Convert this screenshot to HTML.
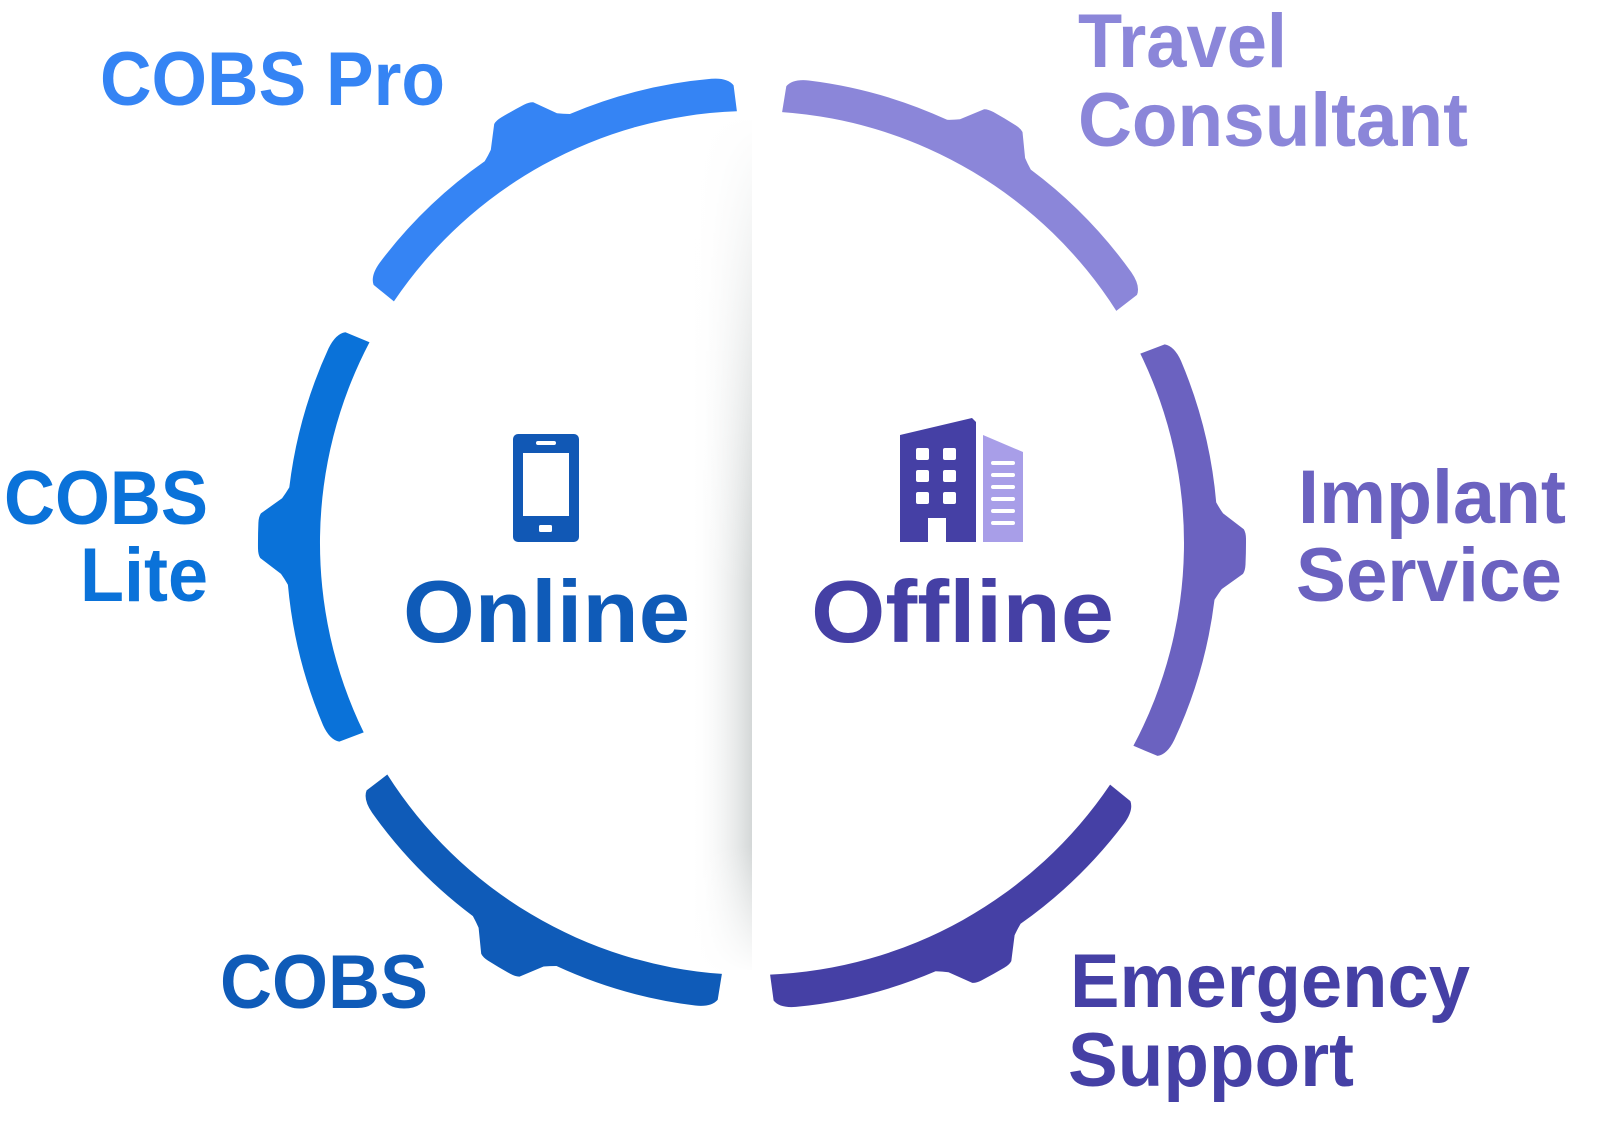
<!DOCTYPE html>
<html><head><meta charset="utf-8">
<style>
html,body{margin:0;padding:0;background:#fff;}
body{width:1600px;height:1132px;overflow:hidden;position:relative;}
svg{position:absolute;left:0;top:0;}
text{font-family:"Liberation Sans",Arial,sans-serif;font-weight:bold;}
</style></head>
<body>
<svg width="1600" height="1132" viewBox="0 0 1600 1132" xmlns="http://www.w3.org/2000/svg">
<defs>
<linearGradient id="sh" x1="0" y1="0" x2="1" y2="0">
<stop offset="0" stop-color="#ffffff" stop-opacity="0"/>
<stop offset="1" stop-color="#cfd3d3" stop-opacity="0.9"/>
</linearGradient>
<linearGradient id="shv" x1="0" y1="0" x2="0" y2="1">
<stop offset="0" stop-color="#fff" stop-opacity="1"/>
<stop offset="0.55" stop-color="#fff" stop-opacity="0"/>
<stop offset="0.85" stop-color="#fff" stop-opacity="0"/>
<stop offset="1" stop-color="#fff" stop-opacity="1"/>
</linearGradient>
</defs>
<rect x="690" y="120" width="62" height="850" fill="url(#sh)"/>
<rect x="688" y="115" width="66" height="860" fill="url(#shv)"/>
<g id="segs"></g>

<!-- phone icon -->
<rect x="513" y="434" width="66" height="108" rx="5" fill="#1158b5"/>
<rect x="523" y="453" width="46" height="63" fill="#fff"/>
<rect x="536" y="441" width="20" height="4" rx="2" fill="#fff"/>
<rect x="539" y="525" width="13" height="7" rx="1.5" fill="#fff"/>

<!-- building icon -->
<path d="M900 435 L972 418 L976 422 L976 542 L946 542 L946 518 L928 518 L928 542 L900 542 Z" fill="#4540a5"/>
<path d="M983 435 L1023 452 L1023 542 L983 542 Z" fill="#a89ee8"/>
<g fill="#fff">
<rect x="916" y="448" width="13" height="12" rx="2"/><rect x="943" y="448" width="13" height="12" rx="2"/>
<rect x="916" y="470" width="13" height="12" rx="2"/><rect x="943" y="470" width="13" height="12" rx="2"/>
<rect x="916" y="492" width="13" height="12" rx="2"/><rect x="943" y="492" width="13" height="12" rx="2"/>
<rect x="991" y="461" width="24" height="4" rx="2"/><rect x="991" y="473" width="24" height="4" rx="2"/>
<rect x="991" y="485" width="24" height="4" rx="2"/><rect x="991" y="497" width="24" height="4" rx="2"/>
<rect x="991" y="509" width="24" height="4" rx="2"/><rect x="991" y="521" width="24" height="4" rx="2"/>
</g>

<g font-size="76">
<text x="100" y="105" fill="#3584f4" textLength="345" lengthAdjust="spacingAndGlyphs">COBS Pro</text>
<text x="1078" y="67" fill="#8b86d9" textLength="209" lengthAdjust="spacingAndGlyphs">Travel</text>
<text x="1078" y="146" fill="#8b86d9" textLength="390" lengthAdjust="spacingAndGlyphs">Consultant</text>
<text x="4" y="524" fill="#0a72d9" textLength="204" lengthAdjust="spacingAndGlyphs">COBS</text>
<text x="80" y="601" fill="#0a72d9" textLength="128" lengthAdjust="spacingAndGlyphs">Lite</text>
<text x="1298" y="523" fill="#6b62c0" textLength="268" lengthAdjust="spacingAndGlyphs">Implant</text>
<text x="1296" y="601" fill="#6b62c0" textLength="266" lengthAdjust="spacingAndGlyphs">Service</text>
<text x="220" y="1008" fill="#0f5bb8" textLength="208" lengthAdjust="spacingAndGlyphs">COBS</text>
<text x="1070" y="1007" fill="#4540a5" textLength="400" lengthAdjust="spacingAndGlyphs">Emergency</text>
<text x="1068" y="1086" fill="#4540a5" textLength="286" lengthAdjust="spacingAndGlyphs">Support</text>
<text x="403" y="642" fill="#0f5bb8" font-size="88" textLength="287" lengthAdjust="spacingAndGlyphs">Online</text>
<text x="811" y="642" fill="#4540a5" font-size="88" textLength="303" lengthAdjust="spacingAndGlyphs">Offline</text>
</g>
</svg>
<script>
(function(){
var cx=752,cy=543,ri=432,ro=466,rb=494;
var segs=[[214,268,'#3584f4'],[274,327.5,'#8b86d9'],[334,388,'#6b62c0'],[34,87.6,'#4540a5'],[94,147.6,'#0f5bb8'],[154,207.7,'#0a72d9']];
function p(r,a){a=a*Math.PI/180;return (cx+r*Math.cos(a)).toFixed(1)+','+(cy+r*Math.sin(a)).toFixed(1);}
var g=document.getElementById('segs'),h='';
segs.forEach(function(s){
var a1=s[0],a2=s[1],m=(a1+a2)/2;
var d='M'+p(ri,a1)+' A'+ri+','+ri+' 0 0 1 '+p(ri,a2);
d+=' L'+p(ro-8,a2-0.3)+' Q'+p(ro,a2-1)+' '+p(ro,a2-3);
d+=' A'+ro+','+ro+' 0 0 0 '+p(ro,m+6);
d+=' Q'+p(ro+3,m+5.2)+' '+p(ro+6,m+4.6);
d+=' L'+p(rb-2,m+2.6)+' Q'+p(rb,m+2.2)+' '+p(rb,m+1.5);
d+=' A'+rb+','+rb+' 0 0 0 '+p(rb,m-1.5);
d+=' Q'+p(rb,m-2.2)+' '+p(rb-2,m-2.6);
d+=' L'+p(ro+6,m-4.6)+' Q'+p(ro+3,m-5.2)+' '+p(ro,m-6);
d+=' A'+ro+','+ro+' 0 0 0 '+p(ro,a1+3);
d+=' Q'+p(ro,a1+1)+' '+p(ro-8,a1+0.3)+' Z';
h+='<path d="'+d+'" fill="'+s[2]+'"/>';
});
g.innerHTML=h;
})();
</script>
</body></html>
